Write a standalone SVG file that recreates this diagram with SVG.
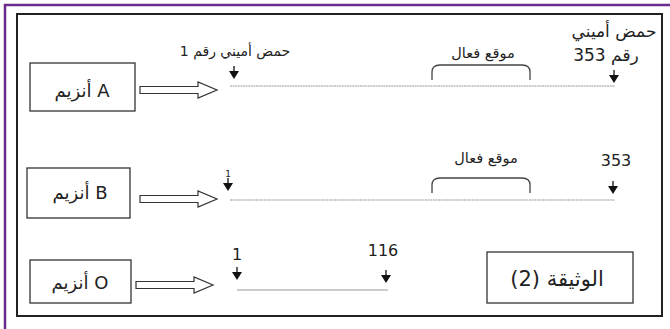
<svg xmlns="http://www.w3.org/2000/svg" width="670" height="329" viewBox="0 0 670 329">
<defs>
<style>
.t{font-family:"DejaVu Sans","Noto Sans",sans-serif;fill:#222;text-anchor:middle}
.box{fill:#fff;stroke:#333;stroke-width:1.3}
.harrow{fill:#fff;stroke:#333;stroke-width:1.2}
.seq{stroke:#999;stroke-width:1.2;fill:none}
.brk{stroke:#444;stroke-width:1.3;fill:none}
.stem{stroke:#111;stroke-width:1.3}
.head{fill:#111}
</style>
<g id="darrow"><line class="stem" x1="0" y1="0" x2="0" y2="6"/><polygon class="head" points="-5,5 5,5 0,13"/></g>
<path id="bracket" class="brk" d="M0,15 L0,7 Q0,0 8,0 L90,0 Q98,0 98,7 L98,15"/>
<polygon id="hollow" class="harrow" points="0,-3.5 58,-3.5 58,-8 77,0 58,8 58,3.5 0,3.5"/>
</defs>
<rect x="0" y="0" width="670" height="329" fill="#fff"/>
<rect x="5" y="5" width="700" height="400" fill="none" stroke="#6a2c8c" stroke-width="2.5"/>
<rect x="17" y="14" width="645" height="302" fill="none" stroke="#222" stroke-width="2"/>

<g id="enzymeA">
<rect class="box" x="30" y="63" width="105" height="48"/>
<text class="t" x="82" y="97" font-size="18">أنزيم A</text>
</g>
<g id="enzymeB">
<rect class="box" x="27" y="168" width="103" height="50"/>
<text class="t" x="80" y="199" font-size="18">أنزيم B</text>
</g>
<g id="enzymeO">
<rect class="box" x="30" y="260" width="101" height="43"/>
<text class="t" x="80" y="289" font-size="18">أنزيم O</text>
</g>
<g id="doc">
<rect class="box" x="487" y="252" width="146" height="51"/>
<text class="t" x="557" y="286" font-size="21">&#x202B;الوثيقة (2)&#x202C;</text>
</g>

<g id="chainA">
<line class="seq" x1="230" y1="86" x2="615" y2="86" stroke-dasharray="2,0.6"/>
<text class="t" x="235" y="56" font-size="14">&#x202B;حمض أميني رقم 1&#x202C;</text>
<use href="#darrow" x="234" y="66"/>
<use href="#bracket" x="432" y="65"/>
<text class="t" x="483" y="58" font-size="14.5">موقع فعال</text>
<text class="t" x="614" y="37" font-size="17">حمض أميني</text>
<text class="t" x="606" y="61" font-size="17">&#x202B;رقم 353&#x202C;</text>
<use href="#darrow" x="614" y="70"/>
</g>
<g id="chainB">
<line class="seq" x1="230" y1="200" x2="615" y2="200" stroke-dasharray="2,0.6"/>
<text class="t" x="228" y="177" font-size="9">1</text>
<use href="#darrow" x="228" y="178"/>
<use href="#bracket" x="432" y="178"/>
<text class="t" x="486" y="163" font-size="14.5">موقع فعال</text>
<text class="t" x="616" y="166" font-size="16">353</text>
<use href="#darrow" x="613" y="181"/>
</g>
<g id="chainO">
<line class="seq" x1="237" y1="290" x2="388" y2="290"/>
<text class="t" x="237" y="260" font-size="16">1</text>
<use href="#darrow" x="237" y="267"/>
<text class="t" x="383" y="256" font-size="16">116</text>
<use href="#darrow" x="386" y="270"/>
</g>

<g id="connectors">
<use href="#hollow" x="140" y="90"/>
<use href="#hollow" x="140" y="199"/>
<use href="#hollow" x="136" y="285"/>
</g>
</svg>
